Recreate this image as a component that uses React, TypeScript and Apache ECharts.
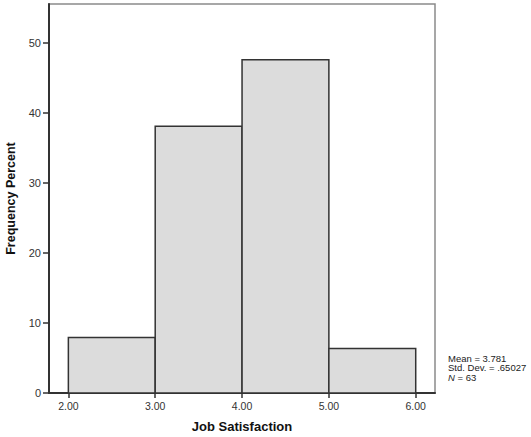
import React, { useEffect, useRef } from "react";
import * as echarts from "echarts";

const binStarts: number[] = [2, 3, 4, 5];
const binEnds: number[] = [3, 4, 5, 6];
const percents: number[] = [7.94, 38.1, 47.62, 6.35];
const xTicks: number[] = [2, 3, 4, 5, 6];
const yTicks: number[] = [0, 10, 20, 30, 40, 50];
const statLines: string[] = ["Mean = 3.781", "Std. Dev. = .65027", "N = 63"];

export default function App() {
  const ref = useRef<HTMLDivElement>(null);
  useEffect(() => {
    if (!ref.current) return;
    const chart = echarts.init(ref.current, undefined, { renderer: "svg" });
    const data = binStarts.map((s, i) => [s, binEnds[i], percents[i]]);
    const font = "'Liberation Sans', Arial, sans-serif";
    chart.setOption({
      animation: false,
      backgroundColor: "#ffffff",
      grid: {
        left: 49,
        top: 4,
        right: 96,
        bottom: 44,
        containLabel: false,
        outerBoundsMode: "none",
        show: true,
        borderColor: "#8a8a8a",
        borderWidth: 1.5,
        backgroundColor: "#ffffff",
      },
      xAxis: {
        type: "value",
        min: 1.777,
        max: 6.222,
        name: "Job Satisfaction",
        nameLocation: "middle",
        nameGap: 27,
        nameTextStyle: { fontFamily: font, fontWeight: "bold", fontSize: 13, color: "#111" },
        axisLine: { show: true, lineStyle: { color: "#333", width: 2 } },
        axisTick: { show: true, length: 5, customValues: xTicks, lineStyle: { color: "#333", width: 1.5 } },
        axisLabel: {
          customValues: xTicks,
          formatter: (v: number) => v.toFixed(2),
          fontFamily: font,
          fontSize: 10.5,
          color: "#333",
          margin: 7,
        },
        splitLine: { show: false },
      },
      yAxis: {
        type: "value",
        min: 0,
        max: 55.57,
        name: "Frequency Percent",
        nameLocation: "middle",
        nameGap: 29,
        nameTextStyle: { fontFamily: font, fontWeight: "bold", fontSize: 12.5, color: "#111" },
        axisLine: { show: true, lineStyle: { color: "#333", width: 2 } },
        axisTick: { show: true, length: 6, customValues: yTicks, lineStyle: { color: "#333", width: 1.5 } },
        axisLabel: {
          customValues: yTicks,
          fontFamily: font,
          fontSize: 11,
          color: "#333",
          margin: 8,
        },
        splitLine: { show: false },
      },
      series: [
        {
          type: "custom",
          data,
          encode: { x: [0, 1], y: 2 },
          renderItem: (params: any, api: any) => {
            const lo = api.value(0);
            const hi = api.value(1);
            const v = api.value(2);
            const p0 = api.coord([lo, 0]);
            const p1 = api.coord([hi, v]);
            return {
              type: "rect",
              shape: { x: p0[0], y: p1[1], width: p1[0] - p0[0], height: p0[1] - p1[1] },
              style: { fill: "#dcdcdc", stroke: "#333333", lineWidth: 1.5 },
            };
          },
        },
      ],
      graphic: [
        {
          type: "text",
          left: 448,
          top: 353,
          style: {
            text: [
              statLines[0],
              statLines[1],
              "{i|N}" + statLines[2].slice(1),
            ].join("\n"),
            fontFamily: font,
            fontSize: 9.5,
            lineHeight: 9.7,
            fill: "#222",
            rich: { i: { fontStyle: "italic", fontFamily: font, fontSize: 9.5, fill: "#222" } },
          },
        },
      ],
    });
    return () => chart.dispose();
  }, []);
  return (
    <div
      ref={ref}
      style={{ position: "fixed", left: 0, top: 0, width: 531, height: 437 }}
    />
  );
}
